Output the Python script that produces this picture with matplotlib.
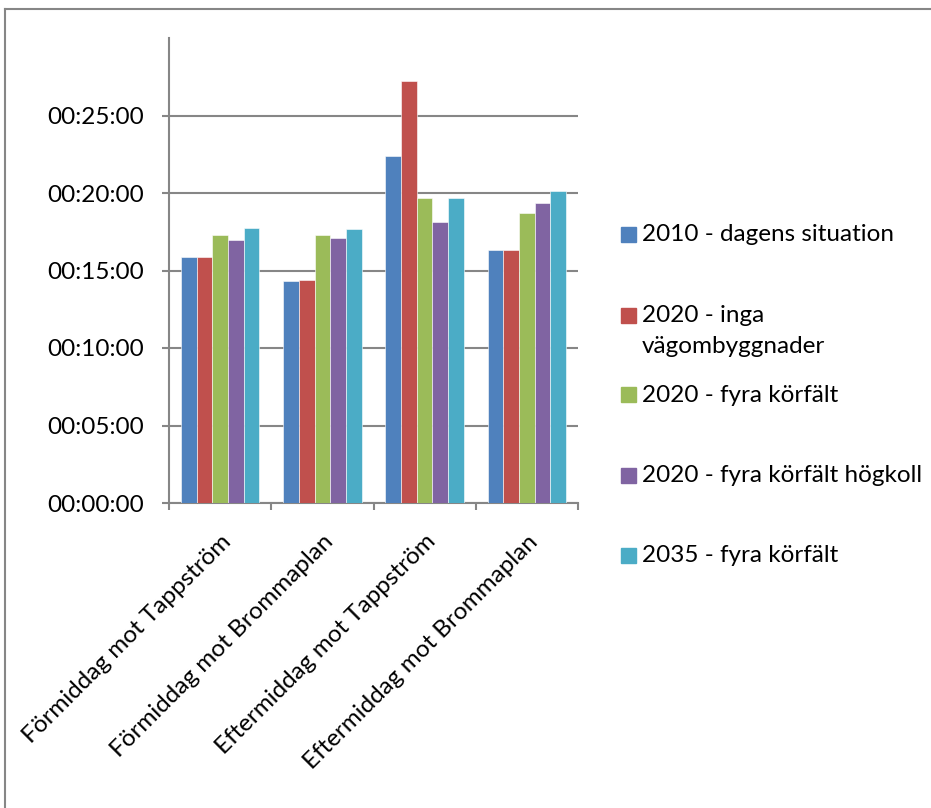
import numpy as np
import matplotlib
matplotlib.use("Agg")
import matplotlib.pyplot as plt
from matplotlib.patches import Rectangle
from matplotlib.lines import Line2D
from matplotlib.ticker import FuncFormatter, FixedLocator

plt.rcParams['font.family'] = ['Lato', 'DejaVu Sans']

# travel times in minutes, one list per scenario
categories = ["Förmiddag mot Tappström", "Förmiddag mot Brommaplan",
              "Eftermiddag mot Tappström", "Eftermiddag mot Brommaplan"]
series_names = ["2010 - dagens situation", "2020 - inga\nvägombyggnader",
                "2020 - fyra körfält", "2020 - fyra körfält högkoll",
                "2035 - fyra körfält"]
t2010 = [15.87, 14.32, 22.39, 16.32]
t2020_inga = [15.87, 14.39, 27.20, 16.32]
t2020_fyra = [17.27, 17.29, 19.66, 18.73]
t2020_hogkoll = [16.97, 17.10, 18.13, 19.33]
t2035_fyra = [17.72, 17.68, 19.70, 20.11]
yticks_min = [0, 5, 10, 15, 20, 25]

series = [t2010, t2020_inga, t2020_fyra, t2020_hogkoll, t2035_fyra]
colors = ["#4F81BD", "#C0504D", "#9BBB59", "#8064A2", "#4BACC6"]
grey = "#868686"
fs = 17.5

W, H = 931, 808
fig = plt.figure(figsize=(W / 100, H / 100), dpi=100)
ax = fig.add_axes([169 / W, 1 - 503 / H, (578 - 169) / W, (503 - 38) / H])

n = len(series)
bw = 1 / (n + 1.5)
centers = np.arange(len(categories)) + 0.5
for j, (vals, c) in enumerate(zip(series, colors)):
    ax.bar(centers + (j - (n - 1) / 2) * bw, vals, width=bw, color=c,
           edgecolor="white", linewidth=0.4, zorder=3)

ax.set_xlim(0, len(categories))
ax.set_ylim(0, 30)

def hms(v, pos=None):
    s = int(round(v * 60))
    return "%02d:%02d:%02d" % (s // 3600, (s // 60) % 60, s % 60)

ax.yaxis.set_major_locator(FixedLocator(yticks_min))
ax.yaxis.set_major_formatter(FuncFormatter(hms))
ax.grid(axis="y", color=grey, linewidth=1.5, zorder=0)
ax.tick_params(axis="y", direction="out", length=5, width=1.5, color=grey,
               labelsize=fs, pad=13)

# category boundaries carry the ticks, labels sit at the centres
ax.set_xticks(np.arange(len(categories) + 1))
ax.set_xticklabels([])
ax.set_xticks(centers, minor=True)
ax.set_xticklabels(categories, minor=True, rotation=45, ha="right",
                   va="top", rotation_mode="anchor")
ax.tick_params(axis="x", which="major", direction="out", length=5,
               width=1.5, color=grey)
ax.tick_params(axis="x", which="minor", length=0, labelsize=fs, pad=20)

for side in ["top", "right"]:
    ax.spines[side].set_visible(False)
for side in ["left", "bottom"]:
    ax.spines[side].set_color(grey)
    ax.spines[side].set_linewidth(1.5)

# legend, Excel-style uneven spacing
leg_y = [234, 315, 395, 475, 555]
for name, c, yy in zip(series_names, colors, leg_y):
    fig.patches.append(Rectangle((621 / W, 1 - (yy + 7.5) / H), 15 / W, 15 / H,
                                 transform=fig.transFigure, color=c))
    fig.text(642 / W, 1 - (yy - 10) / H, name, fontsize=fs, va="top",
             ha="left", linespacing=1.57)

# chart area border
fig.add_artist(Line2D([5 / W, 5 / W], [0, 1 - 9 / H], color=grey, lw=1.5,
                      transform=fig.transFigure))
fig.add_artist(Line2D([5 / W, 1], [1 - 9 / H, 1 - 9 / H], color=grey, lw=1.5,
                      transform=fig.transFigure))

fig.savefig("out.png", dpi=100)
